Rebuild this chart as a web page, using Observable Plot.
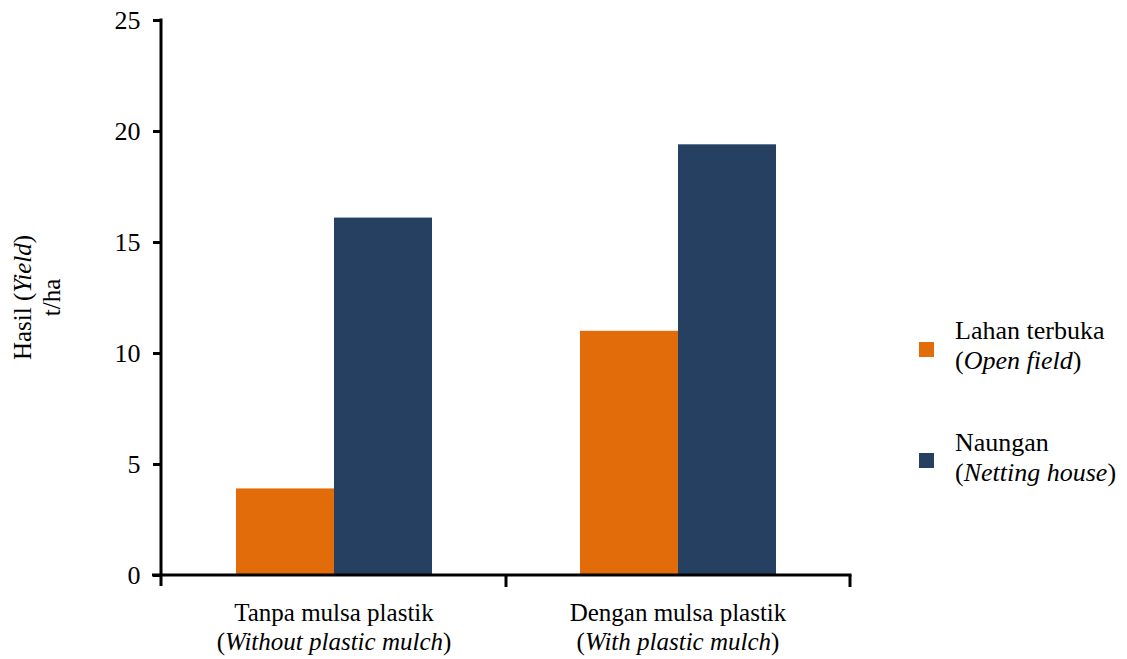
<!DOCTYPE html>
<html>
<head>
<meta charset="utf-8">
<script src="https://cdn.jsdelivr.net/npm/d3@7"></script>
<script src="https://cdn.jsdelivr.net/npm/@observablehq/plot@0.6"></script>
<style>
  body { margin: 0; background: #fff; font-family: 'Liberation Serif', 'Times New Roman', serif; }
  #chart { position: absolute; left: 0; top: 0; }
  #legend { position: absolute; left: 919px; top: 316px; font-size: 26px; line-height: 30px; color: #000; font-family: 'Liberation Serif', 'Times New Roman', serif; white-space: nowrap; }
  .item { display: flex; align-items: flex-start; }
  .item + .item { margin-top: 52px; }
  .sw { width: 15px; height: 15px; margin-top: 26px; margin-right: 21px; flex: none; }
  .item + .item .sw { margin-top: 25px; }
</style>
</head>
<body>
<div id="chart"></div>
<div id="legend"></div>
<script>
const categories = ["Tanpa mulsa plastik", "Dengan mulsa plastik"];
const categoriesEn = ["Without plastic mulch", "With plastic mulch"];
const series = ["Lahan terbuka", "Naungan"];
const seriesEn = ["Open field", "Netting house"];
const openField = [3.9, 11.0];
const nettingHouse = [16.1, 19.4];
const yTicks = [0, 5, 10, 15, 20, 25];
const colors = ["#E36C0A", "#264061"];

const FONT = "'Liberation Serif', 'Times New Roman', serif";
const FS = 26;
const FL = 25;

const data = [];
categories.forEach((c, i) => {
  data.push({category: c, series: series[0], value: openField[i]});
  data.push({category: c, series: series[1], value: nettingHouse[i]});
});

const W = 890, H = 659;
const plot = Plot.plot({
  width: W, height: H,
  marginLeft: 161, marginRight: 40, marginTop: 20, marginBottom: 84,
  style: {fontFamily: FONT, fontSize: FS + "px", color: "#000", overflow: "visible"},
  fx: {domain: categories, padding: 0, axis: null},
  x: {domain: series, paddingInner: 0, paddingOuter: 0.75, axis: null},
  y: {domain: [0, 25], axis: null},
  color: {domain: series, range: colors},
  marks: [
    Plot.barY(data, {fx: "category", x: "series", y: "value", fill: "series"}),
    Plot.axisY({ticks: yTicks, tickSize: 9, tickPadding: 13, strokeWidth: 3, label: null, fill: "#000", fontSize: FS})
  ]
});
document.getElementById("chart").appendChild(plot);

// axis lines and boundary ticks using the plot's scales
const svg = d3.select(plot);
const fx = plot.scale("fx");
const y = plot.scale("y");
const y0 = y.apply(0), yTop = y.apply(25);
const left = fx.range[0], right = fx.range[1];
const g = svg.append("g").attr("stroke", "#000").attr("stroke-width", 3).attr("fill", "none");
g.append("line").attr("x1", left).attr("x2", left).attr("y1", yTop - 1.5).attr("y2", y0 + 11);
g.append("line").attr("x1", left - 9).attr("x2", right + 1.5).attr("y1", y0).attr("y2", y0);
categories.forEach(c => {
  const b = fx.apply(c) + fx.bandwidth;
  g.append("line").attr("x1", b).attr("x2", b).attr("y1", y0).attr("y2", y0 + 12);
});

// category labels (two lines, second italic with upright parentheses)
const lab = svg.append("g").style("font-family", FONT).attr("font-size", FL).attr("text-anchor", "middle").attr("fill", "#000");
categories.forEach((c, i) => {
  const cx = fx.apply(c) + fx.bandwidth / 2;
  lab.append("text").attr("x", cx).attr("y", y0 + 46).text(c);
  const t = lab.append("text").attr("x", cx).attr("y", y0 + 75);
  t.append("tspan").text("(");
  t.append("tspan").attr("font-style", "italic").text(categoriesEn[i]);
  t.append("tspan").text(")");
});

// y axis title
const cy = (y0 + yTop) / 2;
const yt = svg.append("g").style("font-family", FONT).attr("font-size", FL).attr("text-anchor", "middle").attr("fill", "#000");
const t1 = yt.append("text").attr("transform", `translate(31,${cy}) rotate(-90)`);
t1.append("tspan").text("Hasil (");
t1.append("tspan").attr("font-style", "italic").text("Yield");
t1.append("tspan").text(")");
yt.append("text").attr("transform", `translate(60,${cy}) rotate(-90)`).text("t/ha");

// legend
const legend = d3.select("#legend");
series.forEach((s, i) => {
  const it = legend.append("div").attr("class", "item");
  it.append("div").attr("class", "sw").style("background", colors[i]);
  const tx = it.append("div");
  tx.append("div").text(s);
  const l2 = tx.append("div");
  l2.append("span").text("(");
  l2.append("i").text(seriesEn[i]);
  l2.append("span").text(")");
});
</script>
</body>
</html>
